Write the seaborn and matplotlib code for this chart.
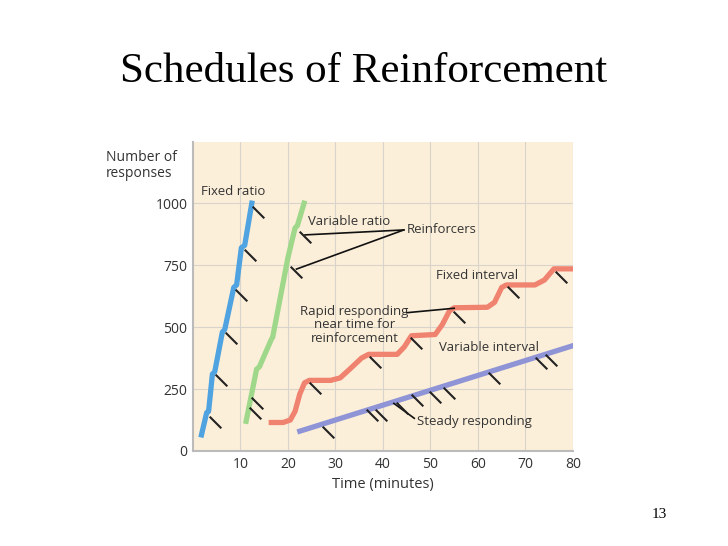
import numpy as np
import pandas as pd
import seaborn as sns
import matplotlib.pyplot as plt
from matplotlib.path import Path

# series (minutes, responses)
fr_x = [1.8, 2.9, 3.3, 4.1, 4.6, 6.2, 6.7, 8.6, 9.2, 10.2, 10.9, 12.4]
fr_y = [65, 155, 160, 310, 320, 480, 490, 660, 670, 820, 830, 1000]
vr_x = [11.2, 13.4, 14.0, 16.5, 16.8, 20.0, 21.5, 22.0, 23.4]
vr_y = [120, 330, 340, 450, 460, 780, 900, 910, 1000]
fi_x = [16.5, 19.0, 20.5, 21.5, 22.5, 23.5, 24.5, 29.0, 31.0, 33.0, 35.5, 37.0, 43.0, 44.5, 46.0,
        51.0, 52.5, 54.0, 55.0, 62.0, 63.5, 65.0, 66.0, 72.0, 74.0, 76.0, 80.0]
fi_y = [115, 115, 125, 160, 230, 275, 285, 285, 295, 330, 375, 390, 390, 420, 465,
        470, 510, 565, 578, 580, 600, 660, 670, 670, 690, 735, 735]
vi_x = [22.5, 80]
vi_y = [80, 425]

# reinforcer tick positions
rf_x = [4.6, 6.0, 8.1, 10.2, 12.0, 13.7, 13.4, 13.0, 23.6, 21.8,
        25.7, 38.4, 46.9, 56.0, 67.3, 77.5,
        28.5, 37.7, 39.5, 44.0, 47.2, 51.0, 53.9, 63.4, 73.3, 75.4]
rf_y = [118, 287, 455, 630, 791, 966, 192, 152, 862, 724,
        253, 360, 435, 542, 643, 704,
        78, 145, 145, 172, 206, 219, 233, 293, 354, 367]

x_ticks = [10, 20, 30, 40, 50, 60, 70, 80]
y_ticks = [0, 250, 500, 750, 1000]

font = "Open Sans"
plt.rcParams["font.family"] = font

fig = plt.figure(figsize=(7.28, 5.46), dpi=100)
ax = fig.add_axes([0.265, 0.174, 0.522, 0.566])
ax.set_facecolor("#fcefd9")

lw = 3.8
sns.lineplot(data=pd.DataFrame({"t": fr_x, "n": fr_y}), x="t", y="n", ax=ax, color="#4ea3e0", lw=lw, sort=False)
sns.lineplot(data=pd.DataFrame({"t": vr_x, "n": vr_y}), x="t", y="n", ax=ax, color="#9fd88a", lw=lw, sort=False)
sns.lineplot(data=pd.DataFrame({"t": fi_x, "n": fi_y}), x="t", y="n", ax=ax, color="#f08270", lw=lw, sort=False)
sns.lineplot(data=pd.DataFrame({"t": vi_x, "n": vi_y}), x="t", y="n", ax=ax, color="#8f94d6", lw=lw, sort=False)

slash = Path([(-1, 1), (1, -1)], [Path.MOVETO, Path.LINETO])
ax.scatter(rf_x, rf_y, marker=slash, s=70, color="#222222", linewidths=1.5, zorder=5)

ax.set_xlim(0, 80)
ax.set_ylim(0, 1247)
ax.set_xticks(x_ticks)
ax.set_yticks(y_ticks)
ax.grid(True, color="#d8d4cc", lw=0.8)
ax.set_axisbelow(True)
for s in ["top", "right"]:
    ax.spines[s].set_visible(False)
for s in ["left", "bottom"]:
    ax.spines[s].set_color("#bbbbbb")
    ax.spines[s].set_linewidth(1.5)
ax.tick_params(length=0, labelsize=10, colors="#333333", pad=4)
ax.set_xlabel("Time (minutes)", fontsize=10.5, color="#333333")
ax.set_ylabel("")

tk = dict(fontsize=9.5, color="#333333")
ax.text(1.8, 1047, "Fixed ratio", va="center", **tk)
ax.text(32.8, 926, "Variable ratio", ha="center", va="center", **tk)
ax.text(45.1, 892, "Reinforcers", va="center", **tk)
ax.text(59.9, 710, "Fixed interval", ha="center", va="center", **tk)
ax.text(34, 509, "Rapid responding\nnear time for\nreinforcement", ha="center", va="center", linespacing=1.05, **tk)
ax.text(62.4, 419, "Variable interval", ha="center", va="center", **tk)
ax.text(47.1, 121, "Steady responding", va="center", **tk)
lk = dict(color="#111111", lw=1.2)
ax.plot([44.4, 23.6], [892, 872], **lk)
ax.plot([44.4, 21.8], [892, 734], **lk)
ax.plot([45, 55], [558, 576], **lk)
ax.plot([46.6, 42.3], [132, 192], **lk)

fig.text(0.145, 0.725, "Number of\nresponses", fontsize=10, color="#333333", ha="left", va="top", linespacing=1.1)
fig.text(0.5, 0.868, "Schedules of Reinforcement", fontsize=31, family="Liberation Serif", ha="center", va="center")
fig.text(0.905, 0.057, "13", fontsize=11, family="Liberation Serif", ha="center", va="center")

fig.savefig("out.png", dpi=100)
